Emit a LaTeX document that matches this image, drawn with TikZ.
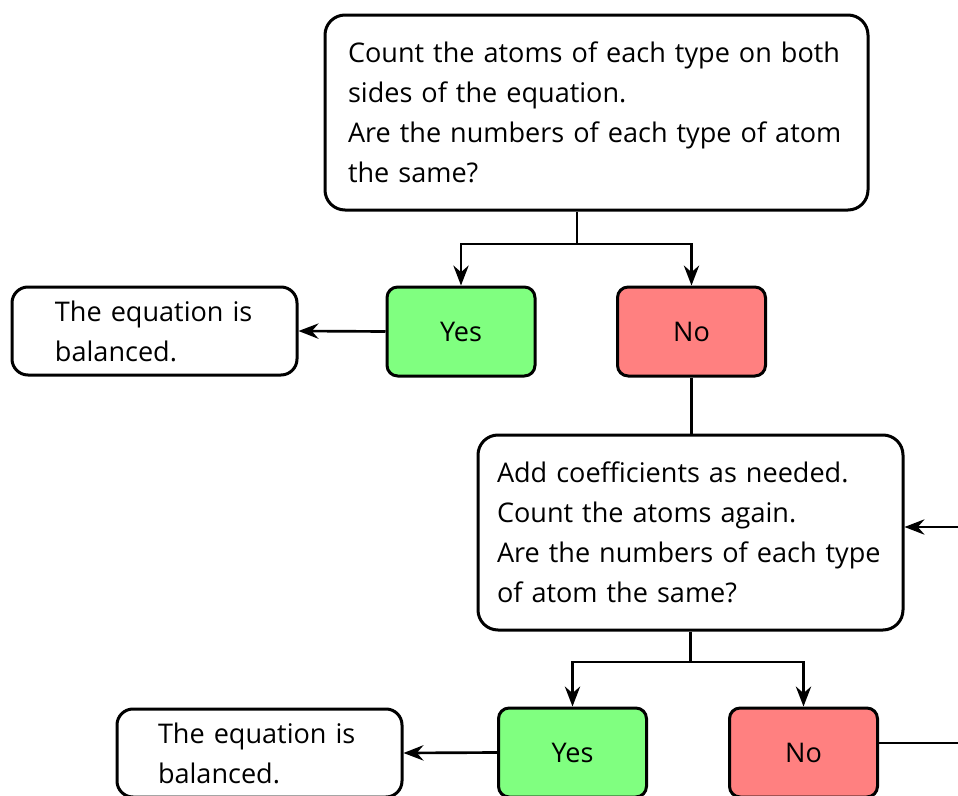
\documentclass[tikz,border=0pt]{standalone}
\usepackage{fontspec}
\setmainfont{Open Sans}
\usetikzlibrary{arrows.meta}
\begin{document}
\begin{tikzpicture}[x=0.75pt,y=-0.75pt,
  every node/.style={font=\fontsize{20.3pt}{30pt}\selectfont},
  bigbox/.style={draw, line width=2.25pt, rounded corners=15pt, fill=white, align=left, minimum height=146.25pt, inner ysep=0pt},
  smallbox/.style={draw, line width=2.25pt, rounded corners=8pt, minimum width=111pt, minimum height=66.75pt, inner sep=0pt},
  balbox/.style={draw, line width=2.25pt, rounded corners=12pt, align=left, minimum height=66pt, inner ysep=0pt},
  yesbox/.style={smallbox, fill=yesgreen},
  nobox/.style={smallbox, fill=nored},
  conn/.style={line width=2pt},
  arr/.style={conn, -{Stealth[length=15pt,width=11.5pt,inset=5pt]}}
]
\definecolor{yesgreen}{HTML}{80FF80}
\definecolor{nored}{HTML}{FF8080}
\clip (0,0) rectangle (958,796);
\useasboundingbox (0,0) rectangle (958,796);
\fill[white] (0,0) rectangle (958,796);

\node[bigbox, inner xsep=17.25pt, text width=372.75pt] (top) at (596.5,112.5)
  {Count the atoms of each type on both\\ sides of the equation.\\ Are the numbers of each type of atom\\ the same?};
\node[yesbox] (yes1) at (461,331.5) {Yes};
\node[nobox] (no1) at (691.5,331.5) {No};
\node[balbox, inner xsep=32.25pt, text width=149.25pt] (bal1) at (154.5,331) {The equation is\\ balanced.};

\node[bigbox, inner xsep=14.25pt, text width=290.25pt] (box2) at (690.5,532.5)
  {Add coefficients as needed.\\ Count the atoms again.\\ Are the numbers of each type\\ of atom the same?};
\node[yesbox] (yes2) at (572.5,752.5) {Yes};
\node[nobox] (no2) at (803.5,752.5) {No};
\node[balbox, inner xsep=30.75pt, text width=152.25pt] (bal2) at (259.5,753) {The equation is\\ balanced.};

\coordinate (j1) at (577,244);
\draw[conn] (j1 |- top.south) -- (j1);
\draw[arr] (j1) -| (yes1.north);
\draw[arr] (j1) -| (no1.north);
\draw[arr] (yes1.west) -- (bal1.east);
\draw[conn] (no1.south) -- (no1.south |- box2.north);

\coordinate (r1) at (960,527);
\draw[arr] (r1) -- (r1 -| box2.east);

\coordinate (j2) at (691,662);
\draw[conn] (box2.south) -- (box2.south |- j2);
\draw[arr] (box2.south |- j2) -| (yes2.north);
\draw[arr] (box2.south |- j2) -| (no2.north);
\draw[arr] (yes2.west) -- (bal2.east);

\coordinate (r2) at (960,743);
\draw[conn] (no2.east |- r2) -- (r2);
\end{tikzpicture}
\end{document}
